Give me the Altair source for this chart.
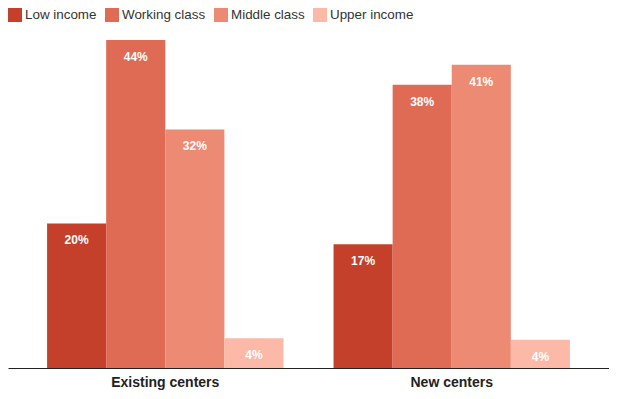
import altair as alt
import pandas as pd

categories = ["Existing centers", "New centers"]
incomes = ["Low income", "Working class", "Middle class", "Upper income"]
existing_values = [19.4, 44, 32, 4]
new_values = [16.6, 38, 40.7, 3.8]
existing_labels = ["20%", "44%", "32%", "4%"]
new_labels = ["17%", "38%", "41%", "4%"]
colors = ["#c4402a", "#e06b55", "#ec8a74", "#fcb9a8"]

rows = []
for cat, vals, labs in [(categories[0], existing_values, existing_labels),
                        (categories[1], new_values, new_labels)]:
    for inc, v, l in zip(incomes, vals, labs):
        rows.append({"category": cat, "income": inc, "value": v, "label": l})
df = pd.DataFrame(rows)

x = alt.X("category:N", sort=categories, title=None,
          scale=alt.Scale(paddingInner=0.1748, paddingOuter=0.1364),
          axis=alt.Axis(labelAngle=0, ticks=False, domainColor="#222", domainWidth=1,
                        labelFont="Liberation Sans", labelFontWeight="bold", labelFontSize=14,
                        labelColor="#222", labelPadding=7, grid=False))
xo = alt.XOffset("income:N", sort=incomes, scale=alt.Scale(paddingInner=0, paddingOuter=0))
y = alt.Y("value:Q", scale=alt.Scale(domain=[0, 48.3]), axis=None)

bars = alt.Chart(df).mark_bar().encode(
    x=x, xOffset=xo, y=y,
    color=alt.Color("income:N", sort=incomes,
                    scale=alt.Scale(domain=incomes, range=colors),
                    legend=alt.Legend(title=None, orient="none", legendX=0, legendY=0,
                                      direction="horizontal", symbolType="square",
                                      symbolSize=196, symbolStrokeWidth=0, symbolOpacity=1,
                                      labelFont="Liberation Sans", labelFontSize=13.4,
                                      labelColor="#333", columnPadding=8, labelOffset=3)),
)

text = alt.Chart(df).mark_text(color="white", font="Liberation Sans", fontWeight="bold",
                               fontSize=12, baseline="middle", dy=17).encode(
    x=x, xOffset=xo, y=y, text="label:N")

chart = (bars + text).properties(width=601, height=360).configure_view(stroke=None).properties(
    autosize=alt.AutoSizeParams(type="none"),
    padding={"left": 0, "top": 0, "right": 0, "bottom": 23},
)

chart.save("out.html", embed_options={"renderer": "svg", "actions": False})
